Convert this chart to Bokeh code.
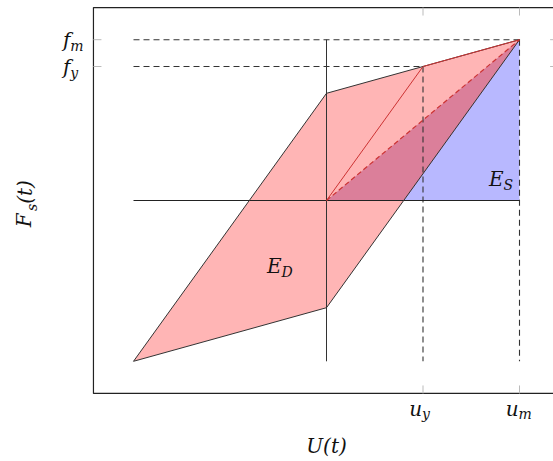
import math
from bokeh.plotting import figure
from bokeh.models import Label, Range1d
from bokeh.embed import file_html
from bokeh.resources import INLINE

# ---- data (normalised units) ----
u_y, u_m = 1.0, 2.0          # yield / maximum displacement
f_y, f_m = 1.0, 1.2          # yield / maximum force
loop_u = [-2.0, 0.0, 2.0, 0.0]      # hysteresis loop (parallelogram) vertices
loop_f = [-1.2, -0.8, 1.2, 0.8]
x_ticks = [u_y, u_m]
x_tick_labels = [("u", "y"), ("u", "m")]
y_ticks = [f_y, f_m]
y_tick_labels = [("f", "y"), ("f", "m")]

FONT = "DejaVu Serif"
MAIN = "20px"
SUB = "14px"

# axis box limits (pgfplots-like enlarged limits)
XL, XR = -2.415, 2.40
YB, YT = -1.44, 1.44
SX, SY = 96.5, 134.0   # px per unit

p = figure(width=553, height=461, output_backend="svg", toolbar_location=None,
           x_range=Range1d(-326 / SX, 227 / SX), y_range=Range1d(-261 / SY, 200 / SY),
           x_axis_location=None, y_axis_location=None,
           min_border=0)
p.outline_line_color = None
p.xgrid.visible = False
p.ygrid.visible = False
p.background_fill_color = "white"
p.border_fill_color = "white"

umin = min(loop_u)
fmin = min(loop_f)

# crossing of the loop's right edge with the zero-force line
u1, f1, u2, f2 = loop_u[1], loop_f[1], loop_u[2], loop_f[2]
u_cross = u1 + (0 - f1) * (u2 - u1) / (f2 - f1)

# energy regions
p.patch([0, u_m, u_m], [0, f_m, 0], fill_color="#b8b8ff", line_color=None)
p.patch(loop_u, loop_f, fill_color="#ffb5b5", line_color=None)
p.patch([0, u_m, u_cross], [0, f_m, 0], fill_color="#db7f9a", line_color=None)

# dashed guide lines
dash = dict(line_color="#333333", line_width=1.1, line_dash="6 4")
p.line([umin, u_m], [f_m, f_m], **dash)
p.line([umin, u_y], [f_y, f_y], **dash)
p.line([u_y, u_y], [f_y, fmin], **dash)
p.line([u_m, u_m], [f_m, fmin], **dash)

# cross axes
p.line([umin, u_m], [0, 0], line_color="#222222", line_width=1.0)
p.line([0, 0], [fmin, f_m], line_color="#333333", line_width=1.0)

# loop outline
p.patch(loop_u, loop_f, fill_color=None, line_color="#333333", line_width=1.0)

# red lines
p.line([0, u_y, u_m], [0, f_y, f_m], line_color="#cc3333", line_width=1.0)
p.line([0, u_m], [0, f_m], line_color="#cc3333", line_width=1.2, line_dash="5 3")

# axis box
p.line([XR, XL, XL, XR], [YT, YT, YB, YB], line_color="#222222", line_width=1.2)
tx_len, ty_len = 8 / SY, 8 / SX
p.segment(x0=x_ticks, y0=[YB] * 2, x1=x_ticks, y1=[YB + tx_len] * 2, line_color="#bbbbbb")
p.segment(x0=x_ticks, y0=[YT] * 2, x1=x_ticks, y1=[YT - tx_len] * 2, line_color="#bbbbbb")
p.segment(x0=[XL] * 2, y0=y_ticks, x1=[XL + ty_len] * 2, y1=y_ticks, line_color="#bbbbbb")
p.segment(x0=[XR] * 2, y0=y_ticks, x1=[XR - ty_len] * 2, y1=y_ticks, line_color="#bbbbbb")

def lab(x, y, t, size=MAIN, align="left", base="middle", angle=0.0):
    p.add_layout(Label(x=x, y=y, text=t, text_font=FONT, text_font_style="italic",
                       text_font_size=size, text_align=align, text_baseline=base,
                       text_color="#111111", angle=angle))

def compound(x, y, main, sub, dy=-0.045):
    lab(x, y, main, align="right")
    lab(x, y + dy, sub, size=SUB, align="left")

# tick labels
for tx, (m, s) in zip(x_ticks, x_tick_labels):
    compound(tx - 0.01, -1.555, m, s, dy=-0.04)
for ty, (m, s) in zip(y_ticks, y_tick_labels):
    compound(-2.655, ty, m, s, dy=-0.045)

# axis labels
lab(0.0, -1.83, "U(t)", align="center")
r = math.pi / 2
lab(-3.13, -0.20, "F", align="left", angle=r)
lab(-3.05, -0.078, "s", size=SUB, align="left", angle=r)
lab(-3.12, -0.025, "(t)", align="left", angle=r)

# region labels
compound(-0.466, -0.49, "E", "D", dy=-0.045)
compound(1.834, 0.16, "E", "S", dy=-0.045)

open("out.html", "w").write(file_html(p, INLINE))
